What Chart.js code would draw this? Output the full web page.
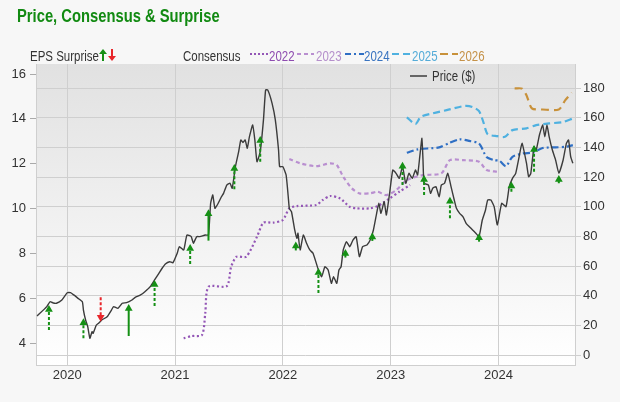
<!DOCTYPE html>
<html>
<head>
<meta charset="utf-8">
<script src="https://cdn.jsdelivr.net/npm/chart.js@4.4.1/dist/chart.umd.min.js"></script>
<style>
body { margin: 0; background: #f7f7f7; }
#wrap { position: relative; width: 620px; height: 402px; overflow: hidden; }
#chart { position: absolute; left: 0; top: 0; }
/* the reference uses a condensed face: squeeze Liberation Sans horizontally */
.txt { position: absolute; white-space: nowrap; font-family: 'Liberation Sans', Arial, sans-serif; font-size: 14px; line-height: 14px; color: #333; transform: scaleX(0.82); transform-origin: 0 0; }
.sw { position: absolute; }
#title { left: 17px; top: 7px; font-size: 18px; line-height: 18px; font-weight: bold; color: #128a12; }
</style>
</head>
<body>
<div id="wrap">
  <canvas id="chart" width="620" height="402"></canvas>
  <div id="title" class="txt">Price, Consensus &amp; Surprise</div>

  <div class="txt" style="left:30px;top:49px">EPS Surprise</div>
  <svg class="sw" style="left:99px;top:49px" width="8" height="12"><line x1="4" y1="12" x2="4" y2="4" stroke="#159015" stroke-width="2"/><polygon points="0,5 4,0 8,5" fill="#159015"/></svg>
  <svg class="sw" style="left:108px;top:49px" width="8" height="12"><line x1="4" y1="0" x2="4" y2="8" stroke="#e8262b" stroke-width="2"/><polygon points="0,7 4,12 8,7" fill="#e8262b"/></svg>

  <div class="txt" style="left:183px;top:49px">Consensus</div>
  <svg class="sw" style="left:249px;top:50px" width="20" height="8"><line x1="1" y1="4" x2="19" y2="4" stroke="#9356b6" stroke-width="2" stroke-dasharray="2,2"/></svg>
  <div class="txt" style="left:269px;top:49px;color:#8e4cb0">2022</div>
  <svg class="sw" style="left:297px;top:50px" width="18" height="8"><line x1="0" y1="4" x2="17" y2="4" stroke="#b98fd0" stroke-width="2" stroke-dasharray="4,3"/></svg>
  <div class="txt" style="left:316px;top:49px;color:#b58fcb">2023</div>
  <svg class="sw" style="left:345px;top:50px" width="19" height="8"><line x1="0" y1="4" x2="19" y2="4" stroke="#2f6fc4" stroke-width="2" stroke-dasharray="6,3,2,3"/></svg>
  <div class="txt" style="left:364px;top:49px;color:#3a74c0">2024</div>
  <svg class="sw" style="left:392px;top:50px" width="19" height="8"><line x1="0" y1="4" x2="19" y2="4" stroke="#4fb1e0" stroke-width="2" stroke-dasharray="7,4"/></svg>
  <div class="txt" style="left:412px;top:49px;color:#55acd8">2025</div>
  <svg class="sw" style="left:440px;top:50px" width="18" height="8"><line x1="0" y1="4" x2="18" y2="4" stroke="#c8913a" stroke-width="2" stroke-dasharray="8,4"/></svg>
  <div class="txt" style="left:459px;top:49px;color:#c59249">2026</div>

  <svg class="sw" style="left:410px;top:72px" width="17" height="8"><line x1="0" y1="4" x2="17" y2="4" stroke="#666" stroke-width="2"/></svg>
  <div class="txt" style="left:432px;top:69px">Price ($)</div>
</div>

<script>
// x values are decimal years
const yearTicks = [2020, 2021, 2022, 2023, 2024]
const epsTicks = [4, 6, 8, 10, 12, 14, 16]
const priceTicks = [0, 20, 40, 60, 80, 100, 120, 140, 160, 180]

// price ($), right axis
const priceX = [2019.72, 2019.81, 2019.84, 2019.87, 2019.90, 2019.95, 2020.00, 2020.03, 2020.06, 2020.10,
    2020.14, 2020.15, 2020.17, 2020.19, 2020.21, 2020.23, 2020.24, 2020.27, 2020.29, 2020.32,
    2020.37, 2020.41, 2020.43, 2020.47, 2020.51, 2020.55, 2020.60, 2020.63, 2020.68, 2020.72,
    2020.77, 2020.81, 2020.85, 2020.88, 2020.91, 2020.95, 2020.98, 2021.02, 2021.04, 2021.08,
    2021.11, 2021.15, 2021.17, 2021.20, 2021.23, 2021.28, 2021.31, 2021.33, 2021.35, 2021.37,
    2021.40, 2021.43, 2021.45, 2021.48, 2021.51, 2021.53, 2021.56, 2021.59, 2021.61, 2021.63,
    2021.65, 2021.67, 2021.69, 2021.72, 2021.74, 2021.76, 2021.79, 2021.82, 2021.84, 2021.86,
    2021.90, 2021.93, 2021.96, 2021.97, 2022.00, 2022.03, 2022.05, 2022.06, 2022.08, 2022.11,
    2022.13, 2022.14, 2022.16, 2022.19, 2022.22, 2022.25, 2022.28, 2022.33, 2022.36, 2022.39,
    2022.42, 2022.45, 2022.47, 2022.50, 2022.52, 2022.54, 2022.56, 2022.59, 2022.62, 2022.65,
    2022.68, 2022.71, 2022.74, 2022.78, 2022.81, 2022.84, 2022.87, 2022.89, 2022.91, 2022.94,
    2022.96, 2022.99, 2023.02, 2023.05, 2023.08, 2023.11, 2023.14, 2023.17, 2023.20, 2023.23,
    2023.25, 2023.27, 2023.29, 2023.30, 2023.31, 2023.35, 2023.37, 2023.39, 2023.42, 2023.45,
    2023.47, 2023.50, 2023.53, 2023.56, 2023.59, 2023.61, 2023.64, 2023.67, 2023.70, 2023.73,
    2023.76, 2023.79, 2023.82, 2023.85, 2023.88, 2023.90, 2023.93, 2023.96, 2023.99, 2024.03,
    2024.07, 2024.10, 2024.13, 2024.16, 2024.21, 2024.22, 2024.26, 2024.28, 2024.30, 2024.33,
    2024.35, 2024.38, 2024.41, 2024.43, 2024.45, 2024.47, 2024.50, 2024.53, 2024.56, 2024.60,
    2024.63, 2024.65, 2024.67, 2024.69]
const priceY = [26.3, 32.6, 35.9, 35.1, 34.9, 37.1, 42.0, 42.0, 40.5, 38.2,
    35.9, 30.3, 23.6, 19.1, 11.3, 15.7, 14.6, 20.2, 21.4, 23.6,
    25.8, 30.3, 32.6, 31.5, 34.9, 35.3, 37.1, 38.9, 40.5, 42.7,
    46.1, 50.6, 55.1, 58.5, 61.4, 62.9, 62.2, 68.6, 73.0, 70.8,
    80.9, 79.8, 75.3, 79.8, 79.8, 80.9, 80.9, 102.3, 107.9, 98.9,
    102.3, 106.7, 109.0, 114.6, 115.8, 112.4, 127.0, 137.1, 145.0, 143.2,
    145.0, 139.4, 147.2, 155.1, 145.0, 130.3, 137.1, 158.5, 178.7, 178.7,
    169.7, 158.5, 138.2, 127.0, 127.0, 121.4, 106.7, 98.9, 96.6, 84.3,
    78.7, 82.1, 70.8, 80.9, 75.3, 70.8, 68.6, 57.3, 52.8, 59.5,
    57.3, 48.3, 52.8, 48.3, 57.3, 59.5, 70.8, 76.4, 73.0, 77.5,
    79.8, 66.3, 73.0, 74.2, 77.5, 84.3, 95.5, 102.3, 95.5, 103.4,
    94.4, 109.0, 124.7, 122.5, 119.1, 127.0, 115.8, 122.5, 119.1, 124.7,
    121.4, 133.7, 146.1, 131.5, 115.8, 114.6, 109.0, 112.4, 113.5, 106.7,
    114.6, 115.8, 122.5, 113.5, 104.5, 98.9, 95.5, 93.3, 88.8, 86.5,
    84.3, 82.1, 79.8, 91.0, 97.8, 104.5, 104.5, 100.0, 87.7, 102.3,
    100.0, 113.5, 119.1, 122.5, 140.5, 142.7, 129.3, 120.2, 122.5, 140.5,
    138.2, 148.3, 155.1, 147.2, 155.1, 147.2, 138.2, 131.5, 122.5, 131.5,
    142.7, 145.0, 133.7, 129.3]

// EPS consensus, left axis
const cons2022X = [2021.08, 2021.15, 2021.25, 2021.28, 2021.31, 2021.48, 2021.52, 2021.57, 2021.66, 2021.76,
    2021.82, 2021.91, 2022.00, 2022.06, 2022.13, 2022.31, 2022.37, 2022.44, 2022.53, 2022.62,
    2022.68, 2022.81, 2022.88, 2022.93, 2022.99, 2023.08, 2023.18]
const cons2022Y = [4.21, 4.31, 4.36, 5.32, 6.51, 6.54, 7.40, 7.85, 7.85, 8.74,
    9.37, 9.37, 9.49, 10.01, 10.11, 10.16, 10.38, 10.56, 10.45, 10.08,
    10.01, 10.01, 10.11, 10.26, 10.45, 10.75, 11.05]
const cons2023X = [2022.06, 2022.16, 2022.31, 2022.44, 2022.50, 2022.56, 2022.64, 2022.71, 2022.81, 2022.88,
    2022.96, 2023.05, 2023.15, 2023.30, 2023.47, 2023.55, 2023.67, 2023.82, 2023.89, 2023.99]
const cons2023Y = [12.21, 12.02, 11.89, 12.02, 11.94, 11.42, 10.90, 10.68, 10.68, 10.75,
    10.60, 10.82, 11.27, 11.49, 11.57, 12.16, 12.16, 12.09, 11.72, 11.64]
const cons2024X = [2023.15, 2023.25, 2023.45, 2023.55, 2023.64, 2023.73, 2023.82, 2023.89, 2023.96, 2024.01,
    2024.07, 2024.13, 2024.23, 2024.32, 2024.41, 2024.53, 2024.63, 2024.69]
const cons2024Y = [12.49, 12.64, 12.73, 12.94, 13.09, 13.02, 12.90, 12.30, 12.16, 12.13,
    11.89, 12.31, 12.46, 12.50, 12.70, 12.73, 12.76, 12.83]
const cons2025X = [2023.15, 2023.23, 2023.28, 2023.39, 2023.52, 2023.69, 2023.76, 2023.82, 2023.86, 2023.90,
    2023.99, 2024.06, 2024.13, 2024.26, 2024.35, 2024.47, 2024.60, 2024.69]
const cons2025Y = [14.07, 13.77, 14.09, 14.25, 14.39, 14.58, 14.53, 14.35, 13.86, 13.32,
    13.23, 13.20, 13.50, 13.58, 13.72, 13.80, 13.86, 14.02]
const cons2026X = [2024.15, 2024.22, 2024.26, 2024.31, 2024.41, 2024.56, 2024.62, 2024.68]
const cons2026Y = [15.36, 15.35, 15.06, 14.47, 14.42, 14.42, 14.84, 15.17]

// EPS surprise arrows, drawn on the price axis (from = tail, to = arrow head)
const surpriseX = [2019.83, 2020.15, 2020.31, 2020.57, 2020.81, 2021.14, 2021.31, 2021.55, 2021.79, 2022.12,
    2022.33, 2022.58, 2022.83, 2023.11, 2023.31, 2023.55, 2023.82, 2024.12, 2024.33, 2024.56]
const surpriseFrom = [16.9, 11.3, 38.9, 12.8, 33.0, 61.4, 77.1, 111.7, 130.3, 70.5,
    41.8, 65.7, 76.9, 114.6, 107.9, 92.2, 76.4, 110.1, 123.6, 115.8]
const surpriseTo = [30.7, 21.7, 25.5, 31.4, 47.6, 71.8, 95.2, 125.8, 144.7, 73.5,
    55.7, 68.5, 79.6, 127.3, 118.4, 103.7, 79.1, 113.9, 138.6, 118.4]
const surpriseSolid = [3, 6]

function pts(xs, ys) {
    return xs.map((x, i) => ({x: x, y: ys[i]}))
}

const datasets = []

surpriseX.forEach((x, i) => {
    var up = surpriseTo[i] > surpriseFrom[i]
    var col = up ? '#159015' : '#e8262b'
    datasets.push({
        data: [{x: x, y: surpriseFrom[i]}, {x: x, y: surpriseTo[i]}],
        yAxisID: 'yR',
        borderColor: col,
        backgroundColor: col,
        borderWidth: 2,
        borderDash: surpriseSolid.includes(i) ? [] : [3, 2],
        pointStyle: 'triangle',
        pointRadius: [0, 4.5],
        pointBorderWidth: 0,
        rotation: up ? 0 : 180
    })
})

datasets.push({
    data: pts(priceX, priceY),
    yAxisID: 'yR',
    borderColor: '#3b3b3b',
    borderWidth: 1.4,
    pointRadius: 0,
    tension: 0.15
})

const consStyles = [
    [cons2022X, cons2022Y, '#9356b6', [2, 2.5]],
    [cons2023X, cons2023Y, '#b98fd0', [4, 3]],
    [cons2024X, cons2024Y, '#2f6fc4', [7, 3, 2, 3]],
    [cons2025X, cons2025Y, '#4fb1e0', [7, 4]],
    [cons2026X, cons2026Y, '#c8913a', [8, 5]]
]
consStyles.forEach(c => {
    datasets.push({
        data: pts(c[0], c[1]),
        yAxisID: 'yL',
        borderColor: c[2],
        borderWidth: 2.2,
        borderDash: c[3],
        pointRadius: 0,
        tension: 0.25
    })
})

const plotBg = {
    id: 'plotBg',
    beforeDraw(chart) {
        const ctx = chart.ctx
        const a = chart.chartArea
        const g = ctx.createLinearGradient(0, a.top, 0, a.bottom)
        g.addColorStop(0, '#e1e1e1')
        g.addColorStop(1, '#ffffff')
        ctx.save()
        ctx.fillStyle = g
        ctx.fillRect(a.left, a.top, a.right - a.left, a.bottom - a.top)
        ctx.restore()
    }
}

Chart.defaults.font.family = "'Liberation Sans', Arial, sans-serif"
Chart.defaults.font.size = 13
Chart.defaults.color = '#333'

new Chart(document.getElementById('chart'), {
    type: 'line',
    data: {datasets: datasets},
    plugins: [plotBg],
    options: {
        responsive: false,
        animation: false,
        devicePixelRatio: 1,
        layout: {padding: {top: 64, left: 0, right: 0, bottom: 0}},
        plugins: {legend: {display: false}, tooltip: {enabled: false}},
        scales: {
            x: {
                type: 'linear',
                min: 2019.71,
                max: 2024.71,
                afterBuildTicks: s => { s.ticks = yearTicks.map(v => ({value: v})) },
                afterFit: s => { s.height = 37 },
                grid: {color: '#cfcfcf', drawTicks: false},
                border: {color: '#cfcfcf'},
                ticks: {padding: 3, callback: v => String(v)}
            },
            yL: {
                position: 'left',
                min: 3.02,
                max: 16.45,
                afterBuildTicks: s => { s.ticks = epsTicks.map(v => ({value: v})) },
                afterFit: s => { s.width = 36 },
                grid: {drawOnChartArea: false, tickLength: 6, color: '#aaa'},
                border: {color: '#cfcfcf'},
                ticks: {padding: 4}
            },
            yR: {
                position: 'right',
                min: -6.74,
                max: 196.2,
                afterBuildTicks: s => { s.ticks = priceTicks.map(v => ({value: v})) },
                afterFit: s => { s.width = 45 },
                grid: {color: '#cfcfcf', tickLength: 6},
                border: {color: '#cfcfcf'},
                ticks: {padding: 2}
            }
        }
    }
})
</script>
</body>
</html>
